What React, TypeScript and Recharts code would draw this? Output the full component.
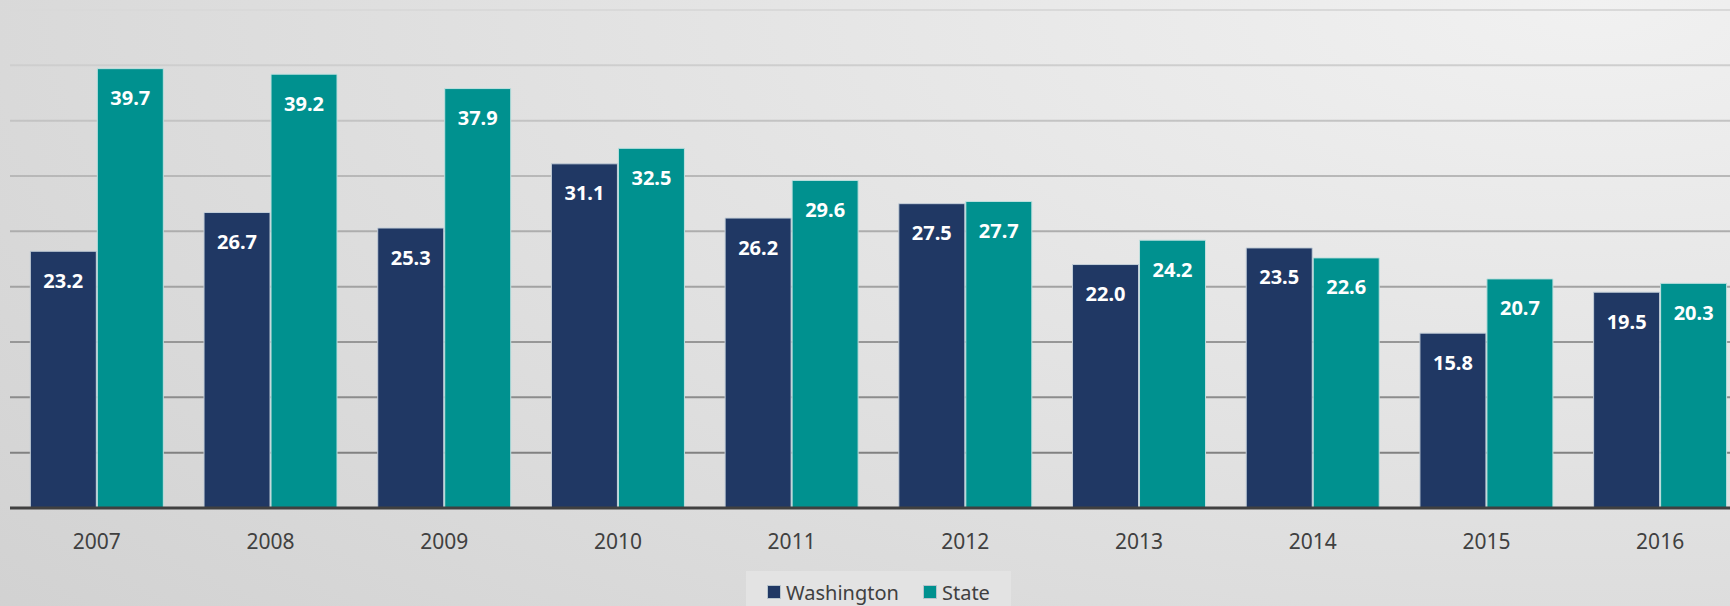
import { BarChart, Bar, XAxis, YAxis, CartesianGrid, LabelList } from 'recharts';

const years = ['2007', '2008', '2009', '2010', '2011', '2012', '2013', '2014', '2015', '2016'];
const washington = [23.2, 26.7, 25.3, 31.1, 26.2, 27.5, 22.0, 23.5, 15.8, 19.5];
const state = [39.7, 39.2, 37.9, 32.5, 29.6, 27.7, 24.2, 22.6, 20.7, 20.3];
const yTicks = [0, 5, 10, 15, 20, 25, 30, 35, 40, 45];

const NAVY = '#203864';
const TEAL = '#00918f';
const FONT = '"Noto Sans", sans-serif';

const data = years.map((year, i) => ({
  year,
  Washington: washington[i],
  State: state[i],
}));

const legendItems = [
  { name: 'Washington', color: NAVY },
  { name: 'State', color: TEAL },
];

// white value label sitting inside the top of each bar
const renderValue = (props: any) => {
  const { x, y, width, value } = props;
  return (
    <text
      x={x + width / 2}
      y={y + 29}
      textAnchor="middle"
      dominantBaseline="central"
      fill="#ffffff"
      fontFamily={FONT}
      fontWeight={700}
      fontSize={20}
    >
      {Number(value).toFixed(1)}
    </text>
  );
};

export default function App() {
  return (
    <>
      <style>{`body { margin: 0; }`}</style>
      <div
        style={{
          position: 'relative',
          width: 1730,
          height: 606,
          overflow: 'hidden',
          background:
            'radial-gradient(ellipse 130% 170% at 92% 0%, #f1f1f1 0%, #e2e2e2 45%, #cfcfcf 100%)',
        }}
      >
        <BarChart
          width={1760}
          height={606}
          data={data}
          margin={{ top: 10, right: 13, left: 10, bottom: 68 }}
          barCategoryGap="11.7%"
          barGap={1}
        >
          <defs>
            <linearGradient id="gridGrad" gradientUnits="userSpaceOnUse" x1="0" y1="10" x2="0" y2="508">
              <stop offset="0%" stopColor="#d9d9d9" />
              <stop offset="100%" stopColor="#767676" />
            </linearGradient>
          </defs>
          <CartesianGrid vertical={false} stroke="url(#gridGrad)" strokeWidth={2} />
          <YAxis hide domain={[0, 45]} ticks={yTicks} />
          <XAxis
            dataKey="year"
            axisLine={{ stroke: '#404040', strokeWidth: 3 }}
            tickLine={false}
            tickMargin={20}
            tick={{ fill: '#404040', fontFamily: FONT, fontSize: 21 }}
          />
          <Bar dataKey="Washington" fill={NAVY} stroke="#c3ced8" strokeWidth={1} isAnimationActive={false}>
            <LabelList dataKey="Washington" content={renderValue} />
          </Bar>
          <Bar dataKey="State" fill={TEAL} stroke="#bfe0df" strokeWidth={1} isAnimationActive={false}>
            <LabelList dataKey="State" content={renderValue} />
          </Bar>
        </BarChart>

        {/* legend box under the axis */}
        <div
          style={{
            position: 'absolute',
            left: 746,
            top: 571,
            width: 265,
            height: 42,
            background: '#e3e3e3',
            display: 'flex',
            alignItems: 'center',
            justifyContent: 'center',
            gap: 24,
            fontFamily: FONT,
            fontSize: 20,
            color: '#404040',
          }}
        >
          {legendItems.map((item) => (
            <div key={item.name} style={{ display: 'flex', alignItems: 'center', gap: 5 }}>
              <span
                style={{
                  width: 12,
                  height: 12,
                  background: item.color,
                  border: '1px solid #b8c4cc',
                  display: 'inline-block',
                }}
              />
              <span>{item.name}</span>
            </div>
          ))}
        </div>
      </div>
    </>
  );
}
